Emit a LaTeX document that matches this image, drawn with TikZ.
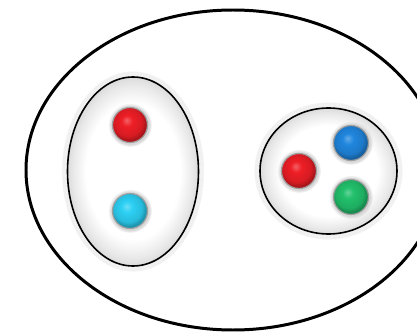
\documentclass[tikz,border=0pt]{standalone}
\usepackage{tikz}
\usetikzlibrary{fadings}
\definecolor{beadred}{RGB}{238,30,38}
\definecolor{beadcyan}{RGB}{44,208,244}
\definecolor{beadblue}{RGB}{32,134,222}
\definecolor{beadgreen}{RGB}{34,192,108}
\colorlet{bead}{beadred}
\pgfdeclareradialshading[bead]{beadshade}{\pgfpoint{-5bp}{7bp}}{color(0bp)=(bead!70!white); color(8bp)=(bead); color(20bp)=(bead!90!black); color(25bp)=(bead!72!black); color(50bp)=(bead!72!black)}
\pgfdeclareradialshading{glow}{\pgfpoint{0bp}{0bp}}{color(0bp)=(white); color(18bp)=(white); color(23bp)=(black!9); color(25bp)=(black!14); color(50bp)=(black!14)}

\begin{document}
\begin{tikzpicture}[x=1bp,y=1bp,
    bead/.style={circle, inner sep=0pt, minimum size=35bp, draw=gray!75, line width=1.2pt,
      /utils/exec={\colorlet{bead}{#1}}, shade, shading=beadshade},
    group/.style={draw=black, line width=1.6pt, shade, shading=glow}]
  \useasboundingbox (0,0) rectangle (417,332);
  \clip (0,0) rectangle (417,332);

  % outer set
  \draw[line width=3pt] (233,162) ellipse [x radius=207, y radius=160];

  % soft halo round the two groups
  \foreach \k in {1,...,5} {
    \draw[black, opacity=0.045, line width=1.2pt] (133,160.5) ellipse [x radius=65.5+\k, y radius=94.5+\k];
    \draw[black, opacity=0.045, line width=1.2pt] (328.5,161) ellipse [x radius=68.5+\k, y radius=63+\k];
  }
  \path[group] (133,160.5) ellipse [x radius=65.5, y radius=94.5];
  \path[group] (328.5,161) ellipse [x radius=68.5, y radius=63];

  % beads
  \foreach \name/\pos/\col in {redA/{(130,207)}/beadred, cyanA/{(130,121)}/beadcyan,
      redB/{(299,161)}/beadred, blueB/{(351,189)}/beadblue, greenB/{(351,135)}/beadgreen} {
    \fill[black!16, path fading=circle with fuzzy edge 15 percent] \pos circle (22);
    \node[bead=\col] (\name) at \pos {};
  }
\end{tikzpicture}
\end{document}
